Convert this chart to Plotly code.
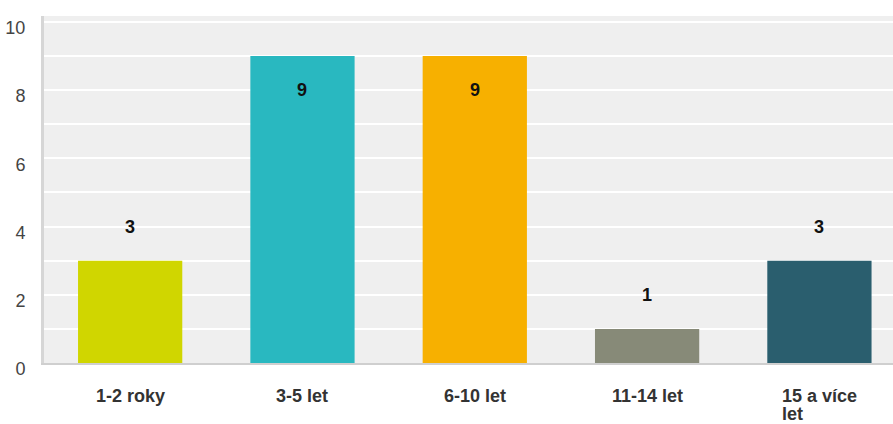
import plotly.graph_objects as go

categories = ["1-2 roky", "3-5 let", "6-10 let", "11-14 let", "15 a více let"]
tick_lines = [["1-2 roky"], ["3-5 let"], ["6-10 let"], ["11-14 let"], ["15 a více", "let"]]
values = [3, 9, 9, 1, 3]
colors = ["#d0d600", "#29b8c0", "#f7b000", "#878a78", "#2a5e6e"]

fig = go.Figure(go.Bar(x=categories, y=values, marker=dict(color=colors, line=dict(width=0)),
                       hoverinfo="skip"))

annotations = []
for c, v in zip(categories, values):
    ypos = v - 1 if v >= 8 else v + 1
    annotations.append(dict(x=c, y=ypos, xref="x", yref="y", text=f"<b>{v}</b>", showarrow=False,
                            font=dict(family="Arial, Liberation Sans", size=18, color="#111")))
for c, lines in zip(categories, tick_lines):
    txt = "<br>".join(f"<span style='font-size:18px'><b>{ln}</b></span>" for ln in lines)
    annotations.append(dict(x=c, y=0, xref="x", yref="paper", yanchor="top", yshift=-21,
                            text=txt, showarrow=False, align="left",
                            font=dict(family="Arial, Liberation Sans", size=14, color="#333")))

fig.update_layout(
    width=893, height=424,
    margin=dict(l=44, r=0, t=16, b=61),
    paper_bgcolor="white", plot_bgcolor="#efefef",
    bargap=0.395, showlegend=False,
    annotations=annotations,
    font=dict(family="Arial, Liberation Sans", color="#333"),
    xaxis=dict(range=[-0.5, 4.427], showticklabels=False, showgrid=False, zeroline=False,
               showline=True, linecolor="#cfcfcf", linewidth=2, fixedrange=True),
    yaxis=dict(range=[0, 10.17], dtick=2, tick0=0, showgrid=True, gridcolor="white", gridwidth=2,
               minor=dict(dtick=1, showgrid=True, gridcolor="white", gridwidth=2),
               zeroline=False, showline=True, linecolor="#d6d6d6", linewidth=3,
               ticks="outside", ticklen=12, tickcolor="rgba(0,0,0,0)", ticklabelshift=6,
               tickfont=dict(family="Arial, Liberation Sans", size=18, color="#444"), fixedrange=True),
)

fig.write_html("out.html", config={"displayModeBar": False})
